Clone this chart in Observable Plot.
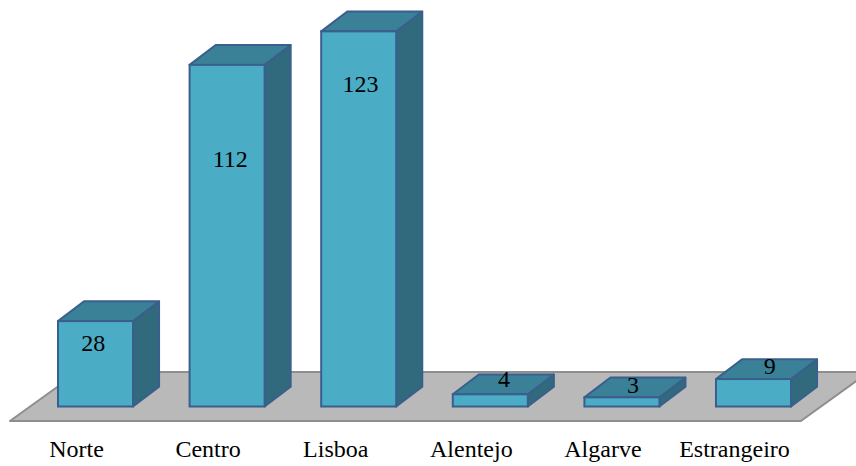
<!DOCTYPE html>
<html>
<head>
<meta charset="utf-8">
<script src="https://cdn.jsdelivr.net/npm/d3@7"></script>
<script src="https://cdn.jsdelivr.net/npm/@observablehq/plot@0.6"></script>
<style>
  html, body { margin: 0; padding: 0; background: #fff; overflow: hidden; }
  svg { display: block; }
</style>
</head>
<body>
<div id="chart"></div>
<script>
// Respondents by region
const regions = ["Norte", "Centro", "Lisboa", "Alentejo", "Algarve", "Estrangeiro"];
const counts = [28, 112, 123, 4, 3, 9];

// Where each count sits relative to its column, as [x shift, height above base]
const labelShift = [-0.02, 0.02, 0.01, 0.10, 0.08, 0.12];
const labelHeight = [21, 81.3, 105.7, 9.1, 7.1, 13.3];

// Region names sit on the columns' index, Lisboa slightly to the left
const tickPositions = [0, 1, 1.97, 3, 4, 5];

// Box proportions in scale units
const halfWidth = 0.285;
const depthX = 0.198;
const depthY = 6.5;
const floorY = [-4.75, 11.31];
const floorX = [-0.65, 5.36];
const floorSkew = 0.517;

const colors = {front: "#4bacc6", top: "#3a8096", side: "#31697d", edge: "#3a5f8e", floor: "#b9b9b9", floorEdge: "#8e8e8e"};
const font = "'Liberation Serif', 'Times New Roman', serif";

const bars = regions.map((region, i) => ({region, i, count: counts[i]}));

const sideFaces = bars.flatMap(d => [
  {region: d.region, x: d.i + halfWidth, y1: 0, y2: d.count},
  {region: d.region, x: d.i + halfWidth + depthX, y1: depthY, y2: d.count + depthY}
]);
const topFaces = bars.flatMap(d => [
  {region: d.region, y: d.count, x1: d.i - halfWidth, x2: d.i + halfWidth},
  {region: d.region, y: d.count + depthY, x1: d.i - halfWidth + depthX, x2: d.i + halfWidth + depthX}
]);
const floor = [
  {y: floorY[0], x1: floorX[0], x2: floorX[1]},
  {y: floorY[1], x1: floorX[0] + floorSkew, x2: floorX[1] + floorSkew}
];

const chart = Plot.plot({
  width: 856,
  height: 466,
  marginTop: 0,
  marginRight: 0,
  marginBottom: 30,
  marginLeft: 0,
  style: {background: "#fff", fontFamily: font},
  x: {domain: [-0.7257, 5.7789], range: [0, 856]},
  y: {domain: [-9.67, 133.28], axis: null},
  marks: [
    Plot.areaX(floor, {y: "y", x1: "x1", x2: "x2", fill: colors.floor, stroke: colors.floorEdge, strokeWidth: 2}),
    Plot.areaY(sideFaces, {x: "x", y1: "y1", y2: "y2", z: "region", fill: colors.side, stroke: colors.edge, strokeWidth: 2}),
    Plot.areaX(topFaces, {y: "y", x1: "x1", x2: "x2", z: "region", fill: colors.top, stroke: colors.edge, strokeWidth: 2}),
    Plot.rect(bars, {
      x1: d => d.i - halfWidth,
      x2: d => d.i + halfWidth,
      y1: 0,
      y2: "count",
      fill: colors.front,
      stroke: colors.edge,
      strokeWidth: 2
    }),
    Plot.text(bars, {
      x: d => d.i + labelShift[d.i],
      y: d => labelHeight[d.i],
      text: d => String(d.count),
      fill: "#000",
      fontSize: 24,
      fontFamily: font
    }),
    Plot.axisX({
      ticks: tickPositions,
      tickFormat: v => regions[Math.round(v)],
      tickSize: 0,
      tickPadding: 3,
      dx: -19.5,
      label: null,
      fontSize: 24,
      fontFamily: font,
      fill: "#000"
    })
  ]
});

document.getElementById("chart").append(chart);
</script>
</body>
</html>
